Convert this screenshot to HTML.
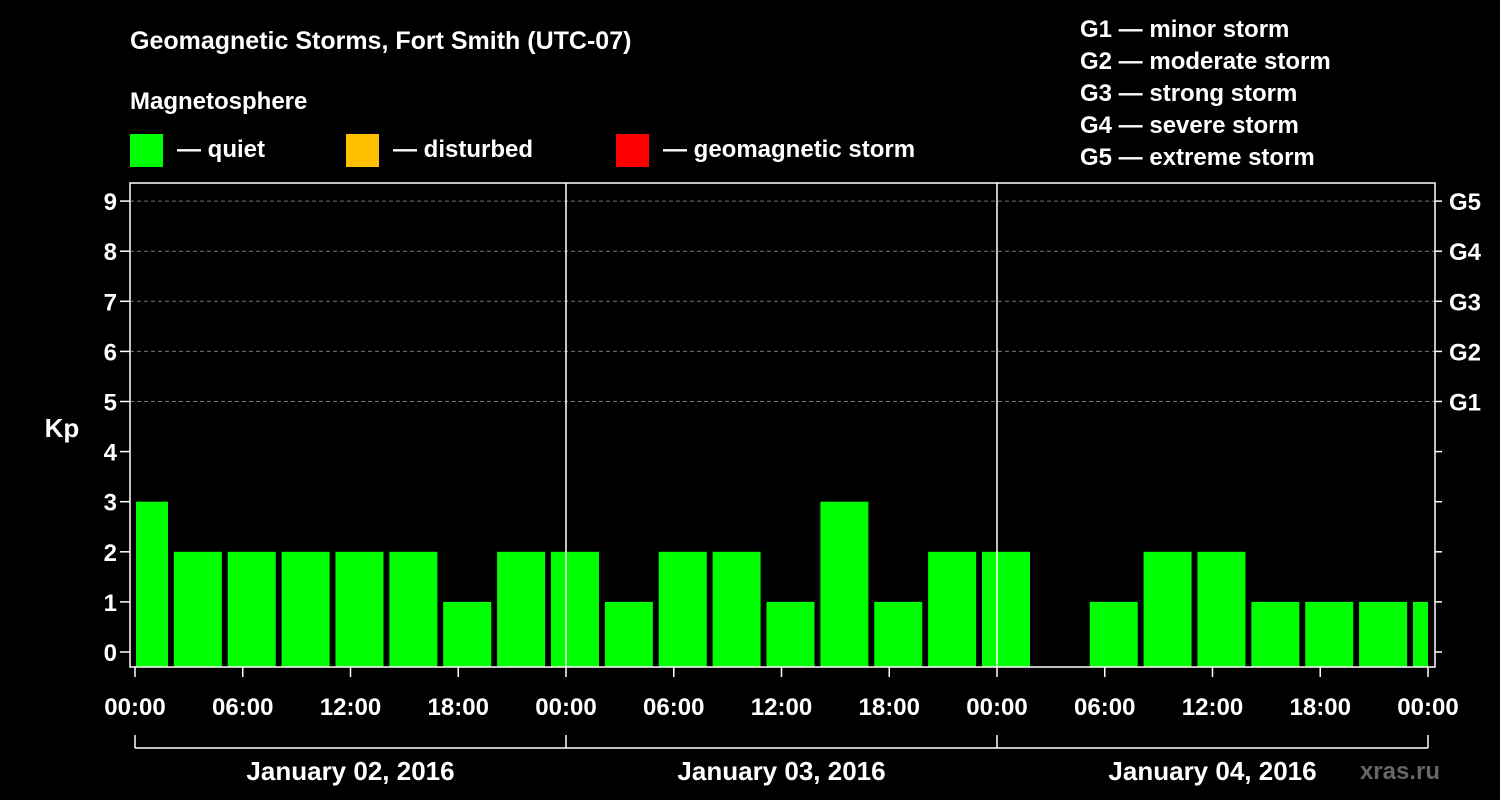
<!DOCTYPE html>
<html><head><meta charset="utf-8"><style>
body{margin:0;background:#000;}
svg{display:block;font-family:"Liberation Sans",Arial,sans-serif;font-weight:bold;}
</style></head><body>
<svg id="chart" width="1500" height="800" viewBox="0 0 1500 800">
<rect width="1500" height="800" fill="#000"/>
<text x="130" y="49" fill="#fff" font-size="25">Geomagnetic Storms, Fort Smith (UTC-07)</text>
<text x="130" y="109" fill="#fff" font-size="24">Magnetosphere</text>
<g><rect x="130" y="134" width="33" height="33" fill="#00ff00"/><text x="177" y="157" fill="#fff" font-size="24">— quiet</text></g>
<g><rect x="346" y="134" width="33" height="33" fill="#ffc000"/><text x="393" y="157" fill="#fff" font-size="24">— disturbed</text></g>
<g><rect x="616" y="134" width="33" height="33" fill="#ff0000"/><text x="663" y="157" fill="#fff" font-size="24">— geomagnetic storm</text></g>
<g fill="#fff" font-size="24">
<text x="1080" y="37">G1 — minor storm</text><text x="1080" y="69">G2 — moderate storm</text><text x="1080" y="101">G3 — strong storm</text><text x="1080" y="133">G4 — severe storm</text><text x="1080" y="165">G5 — extreme storm</text>
</g>
<text x="62" y="437" fill="#fff" font-size="26" text-anchor="middle">Kp</text>
<text x="1440" y="779" fill="#666" font-size="24" text-anchor="end">xras.ru</text>
<g id="grid"></g><g id="bars"></g><g id="axes"></g>
</svg>
<script>
const kpValues=[3,2,2,2,2,2,1,2,2,1,2,2,1,3,1,2,2,null,1,2,2,1,1,1,1];
const yTicks=[0,1,2,3,4,5,6,7,8,9];
const gLabels=["G1","G2","G3","G4","G5"];
const xTickLabels=["00:00","06:00","12:00","18:00","00:00","06:00","12:00","18:00","00:00","06:00","12:00","18:00","00:00"];
const dayLabels=["January 02, 2016","January 03, 2016","January 04, 2016"];
const NS="http://www.w3.org/2000/svg";
const X0=135,X1=1428,HOURS=72,PL=130,PR=1435,PT=183,PB=667;
const x=h=>X0+(X1-X0)*h/HOURS;
const y=v=>652-50.1*v;
function mk(tag,attrs,parent,text){const e=document.createElementNS(NS,tag);for(const k in attrs)e.setAttribute(k,attrs[k]);if(text!==undefined)e.textContent=text;parent.appendChild(e);return e;}
const grid=document.getElementById('grid'),bars=document.getElementById('bars'),axes=document.getElementById('axes');
yTicks.forEach(v=>{
 if(v>=5){const l=mk('line',{x1:PL,x2:PR,y1:y(v),y2:y(v),stroke:'#777','stroke-dasharray':'4,3','stroke-width':1},grid);
 
 }
 const t=mk('line',{x1:120,x2:PL,y1:y(v),y2:y(v),stroke:'#fff','stroke-width':1.5},axes);
 
 
 const rt=mk('line',{x1:PR,x2:1442,y1:y(v),y2:y(v),stroke:'#fff','stroke-width':1.5},axes);
 
 
 const lb=mk('text',{x:117,y:y(v)+9,fill:'#fff','font-size':24,'text-anchor':'end'},axes,String(v));
 
 
});
gLabels.forEach((g,i)=>{
 const t=mk('text',{x:1449,y:y(5+i)+9,fill:'#fff','font-size':24},axes,g);
 
 
});
kpValues.forEach((v,k)=>{
 if(v===null)return;
 const c=0.5+3*k;
 const l=Math.max(x(c)-24,X0+1),r=Math.min(x(c)+24,X1);
 const b=mk('rect',{x:l,y:y(v),width:r-l,height:PB-y(v),fill:'#00ff00'},bars);
 
 
});
const fr=mk('rect',{x:PL,y:PT,width:PR-PL,height:PB-PT,fill:'none',stroke:'#fff','stroke-width':1.5},axes);


[24,48].forEach(h=>{
 const l=mk('line',{x1:x(h),x2:x(h),y1:PT,y2:PB,stroke:'#fff','stroke-width':1.5},axes);
 
 
});
xTickLabels.forEach((s,i)=>{
 const xx=x(i*6);
 const t=mk('line',{x1:xx,x2:xx,y1:PB,y2:PB+10,stroke:'#fff','stroke-width':1.5},axes);
 
 
 const lb=mk('text',{x:xx,y:715,fill:'#fff','font-size':24,'text-anchor':'middle'},axes,s);
 
 
});
const br=mk('line',{x1:X0,x2:X1,y1:748,y2:748,stroke:'#fff','stroke-width':1.5},axes);


[0,24,48,72].forEach(h=>{
 const t=mk('line',{x1:x(h),x2:x(h),y1:735,y2:748,stroke:'#fff','stroke-width':1.5},axes);
 
 
});
dayLabels.forEach((d,i)=>{
 const t=mk('text',{x:x(i*24+12),y:780,fill:'#fff','font-size':26,'text-anchor':'middle'},axes,d);
 
 
});
</script>
</body></html>
